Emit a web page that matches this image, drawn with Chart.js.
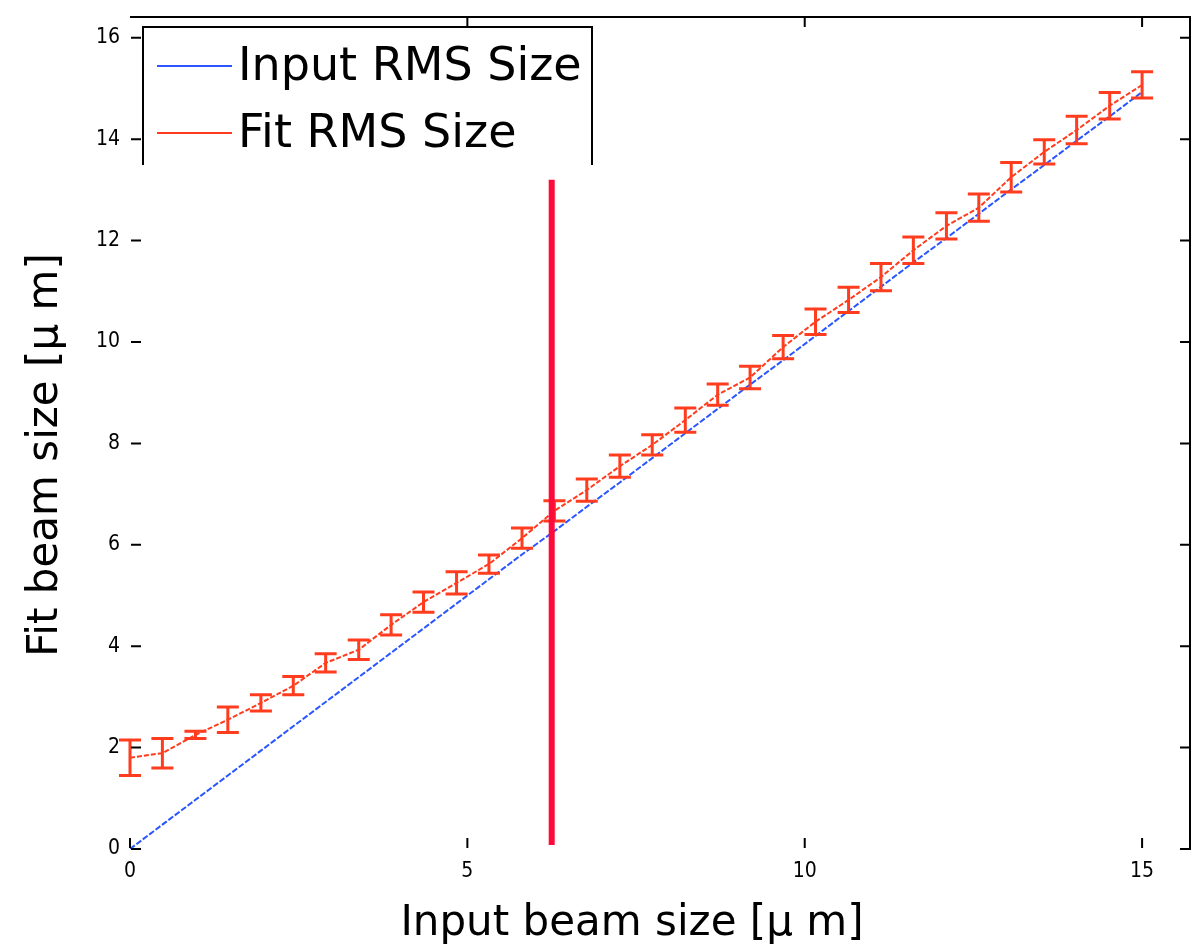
<!DOCTYPE html>
<html lang="en">
<head>
  <meta charset="UTF-8">
  <title>Fit beam size vs input beam size</title>
  <script src="https://cdn.jsdelivr.net/npm/chart.js"></script>
  <style>
    html, body { margin: 0; padding: 0; background: #fff; }
    #wrap { width: 1198px; height: 950px; position: relative; }
  </style>
</head>
<body>
  <div id="wrap"><canvas id="beamChart"></canvas></div>

  <script>
  // data
  const xValues   = [0.00, 0.48, 0.97, 1.45, 1.94, 2.42, 2.90, 3.39, 3.87, 4.35, 4.84, 5.32, 5.81, 6.29, 6.77, 7.26,
                     7.74, 8.23, 8.71, 9.19, 9.68, 10.16, 10.65, 11.13, 11.61, 12.10, 12.58, 13.06, 13.55, 14.03, 14.52, 15.00];
  const inputSize = [0.00, 0.48, 0.97, 1.45, 1.94, 2.42, 2.90, 3.39, 3.87, 4.35, 4.84, 5.32, 5.81, 6.27, 6.75, 7.23,
                     7.71, 8.20, 8.68, 9.16, 9.64, 10.12, 10.61, 11.09, 11.57, 12.05, 12.53, 13.01, 13.49, 13.97, 14.45, 14.93];
  const fitSize   = [1.80, 1.89, 2.25, 2.55, 2.88, 3.22, 3.67, 3.93, 4.42, 4.87, 5.25, 5.62, 6.13, 6.67, 7.08, 7.55,
                     7.97, 8.46, 8.96, 9.30, 9.90, 10.40, 10.83, 11.28, 11.81, 12.29, 12.65, 13.25, 13.75, 14.18, 14.66, 15.07];
  const fitErr    = [0.35, 0.29, 0.07, 0.25, 0.16, 0.18, 0.18, 0.19, 0.20, 0.20, 0.22, 0.18, 0.20, 0.20, 0.22, 0.22,
                     0.20, 0.24, 0.21, 0.22, 0.23, 0.25, 0.25, 0.27, 0.26, 0.26, 0.27, 0.29, 0.24, 0.27, 0.26, 0.26];
  const markerX   = [6.25, 6.25];
  const markerY   = [0.08, 13.2];
  const xTicks    = [0, 5, 10, 15];
  const yTicks    = [0, 2, 4, 6, 8, 10, 12, 14, 16];
  const legendLabels = ['Input RMS Size', 'Fit RMS Size'];
  const xTitle = 'Input beam size [\u03bc m]';
  const yTitle = 'Fit beam size [\u03bc m]';

  const BLUE = '#2a55ff';
  const RED = '#ff3c1e';
  const MARKER = '#ff0a3a';
  const tickFont = { family: '"Liberation Sans Narrow", "DejaVu Sans Condensed", sans-serif', size: 21 };

  const toPts = (xs, ys) => xs.map((x, i) => ({ x: x, y: ys[i] }));

  // frame, inward ticks, legend box, axis titles, error bars
  const framePlugin = {
    id: 'frame',
    afterDatasetDraw(chart, args) {
      if (args.index !== 1) return;
      const ctx = chart.ctx, xs = chart.scales.x, ys = chart.scales.y;
      ctx.save();
      ctx.strokeStyle = RED;
      ctx.lineWidth = 3;
      xValues.forEach((x, i) => {
        const px = xs.getPixelForValue(x);
        const top = ys.getPixelForValue(fitSize[i] + fitErr[i]);
        const bot = ys.getPixelForValue(fitSize[i] - fitErr[i]);
        ctx.beginPath();
        ctx.moveTo(px, top); ctx.lineTo(px, bot);
        ctx.moveTo(px - 11, top); ctx.lineTo(px + 11, top);
        ctx.moveTo(px - 11, bot); ctx.lineTo(px + 11, bot);
        ctx.stroke();
      });
      ctx.restore();
    },
    afterDraw(chart) {
      const ctx = chart.ctx, a = chart.chartArea;
      const xs = chart.scales.x, ys = chart.scales.y;
      ctx.save();
      ctx.strokeStyle = '#000';
      ctx.lineWidth = 2;
      ctx.beginPath();
      ctx.moveTo(a.left, a.top); ctx.lineTo(a.right, a.top); ctx.lineTo(a.right, a.bottom + 1);
      ctx.stroke();
      ctx.beginPath();
      yTicks.forEach(v => {
        const py = ys.getPixelForValue(v);
        ctx.moveTo(a.left + 1, py); ctx.lineTo(a.left + 11, py);
        ctx.moveTo(a.right - 10, py); ctx.lineTo(a.right, py);
      });
      xTicks.forEach(v => {
        const px = xs.getPixelForValue(v);
        ctx.moveTo(px, a.bottom - 1); ctx.lineTo(px, a.bottom - 11);
        if (v > 0) { ctx.moveTo(px, a.top); ctx.lineTo(px, a.top + 10); }
      });
      ctx.stroke();

      // legend box (bottom edge is hidden in the picture)
      ctx.beginPath();
      ctx.moveTo(143, 165); ctx.lineTo(143, 27); ctx.lineTo(592, 27); ctx.lineTo(592, 165);
      ctx.stroke();
      ctx.lineWidth = 2;
      [BLUE, RED].forEach((c, i) => {
        const py = 66 + i * 67;
        ctx.strokeStyle = c;
        ctx.beginPath(); ctx.moveTo(157, py); ctx.lineTo(232, py); ctx.stroke();
      });
      ctx.fillStyle = '#000';
      ctx.textBaseline = 'middle';
      ctx.textAlign = 'left';
      ctx.font = '46px "DejaVu Sans", sans-serif';
      legendLabels.forEach((t, i) => ctx.fillText(t, 238, 68 + i * 67));

      // axis titles
      ctx.font = '42px "DejaVu Sans", sans-serif';
      ctx.textAlign = 'center';
      ctx.fillText(xTitle, 632, 924);
      ctx.translate(46, 455);
      ctx.rotate(-Math.PI / 2);
      ctx.fillText(yTitle, 0, 0);
      ctx.restore();
    }
  };

  const chart = new Chart(document.getElementById('beamChart'), {
    type: 'line',
    data: {
      datasets: [
        { label: 'marker', data: toPts(markerX, markerY), borderColor: MARKER, borderWidth: 6,
          pointRadius: 0, order: 0 },
        { label: legendLabels[1], data: toPts(xValues, fitSize), borderColor: RED, borderWidth: 2,
          borderDash: [5, 2], pointRadius: 0, order: 1 },
        { label: legendLabels[0], data: toPts(xValues, inputSize), borderColor: BLUE, borderWidth: 2,
          borderDash: [6, 2], pointRadius: 0, order: 2 }
      ]
    },
    options: {
      responsive: true,
      maintainAspectRatio: false,
      animation: false,
      layout: { padding: { top: 17, right: 8, left: 0, bottom: 0 } },
      plugins: { legend: { display: false }, tooltip: { enabled: false } },
      scales: {
        x: {
          type: 'linear', min: 0, max: 15.71,
          afterFit: s => { s.height = 101; s.paddingLeft = 0; s.paddingRight = 0; },
          afterBuildTicks: s => { s.ticks = xTicks.map(v => ({ value: v })); },
          grid: { display: false, drawTicks: false },
          border: { display: false },
          ticks: { color: '#000', font: tickFont, padding: 10, maxRotation: 0 }
        },
        y: {
          type: 'linear', min: 0, max: 16.41,
          afterFit: s => { s.width = 130; s.paddingTop = 0; s.paddingBottom = 0; },
          afterBuildTicks: s => { s.ticks = yTicks.map(v => ({ value: v })); },
          grid: { display: false, drawTicks: false },
          border: { display: false },
          ticks: { color: '#000', font: tickFont, padding: 10 }
        }
      }
    },
    plugins: [framePlugin]
  });
  </script>
</body>
</html>
